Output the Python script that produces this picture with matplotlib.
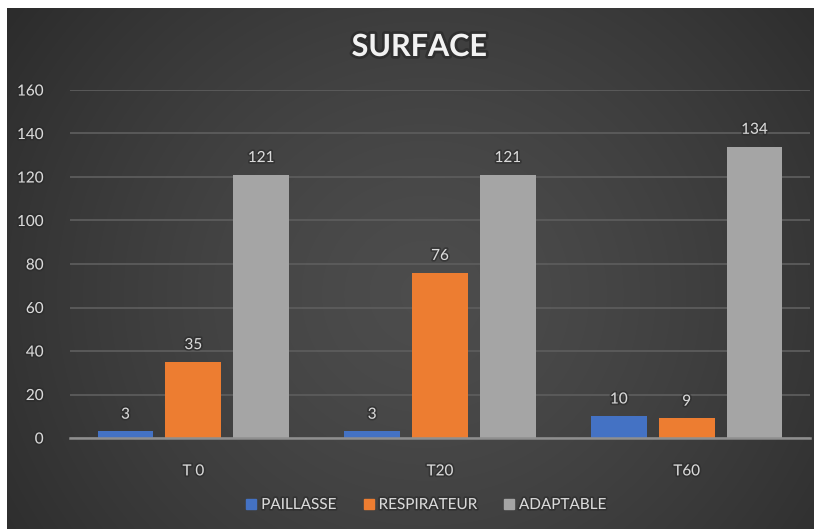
import matplotlib
matplotlib.use("Agg")
import matplotlib.pyplot as plt
import matplotlib.patheffects as pe
import numpy as np
from matplotlib.lines import Line2D

plt.rcParams["font.family"] = ["Lato", "DejaVu Sans"]

# --- data ---
categories = ["T 0", "T20", "T60"]
series_names = ["PAILLASSE", "RESPIRATEUR", "ADAPTABLE"]
paillasse = [3, 3, 10]
respirateur = [35, 76, 9]
adaptable = [121, 121, 134]
series_values = [paillasse, respirateur, adaptable]
colors = ["#4472C4", "#ED7D31", "#A5A5A5"]
y_ticks = [0, 20, 40, 60, 80, 100, 120, 140, 160]

W, H = 814, 531
fig = plt.figure(figsize=(W / 100, H / 100), dpi=100)
fig.patch.set_facecolor("white")

# dark background panel with soft radial gradient
bg = fig.add_axes([7 / W, 2 / H, 1 - 7 / W, 1 - 10 / H])
bg.set_axis_off()
yy, xx = np.mgrid[0:1:300j, 0:1:500j]
r = np.sqrt(((xx - 0.52) / 0.75) ** 2 + ((yy - 0.55) / 1.1) ** 2)
light, dark = 0.30, 0.14
shade = np.clip(light - (light - dark) * r ** 1.4, dark, light)
img = np.dstack([shade, shade, shade])
bg.imshow(img, aspect="auto", extent=[0, 1, 0, 1], interpolation="bilinear")
bg.set_xlim(0, 1)
bg.set_ylim(0, 1)

ax = fig.add_axes([70 / W, (H - 438) / H, 740 / W, (438 - 90) / H])
ax.patch.set_alpha(0)

x = np.arange(len(categories))
width = 0.227
offset = 0.275
text_col = "#d9d9d9"
glow = [pe.withStroke(linewidth=2.5, foreground="#2a2a2a", alpha=0.6)]
fs = 11

for i, (name, vals, c) in enumerate(zip(series_names, series_values, colors)):
    pos = x + (i - 1) * offset
    ax.bar(pos, vals, width=width, color=c, label=name, zorder=3)
    for p, v in zip(pos, vals):
        ax.text(p, v + 4.5, str(v), ha="center", va="bottom", fontsize=fs,
                color=text_col, path_effects=glow, zorder=4)

ax.set_xlim(-0.5, 2.5)
ax.set_ylim(0, 160)
ax.set_yticks(y_ticks)
ax.set_xticks(x)
ax.set_xticklabels(categories)
ax.yaxis.grid(True, color="#5c5c5c", linewidth=1.3, zorder=0)
ax.set_axisbelow(True)
for s in ["top", "right", "left"]:
    ax.spines[s].set_visible(False)
ax.spines["bottom"].set_color("#8f8f8f")
ax.spines["bottom"].set_linewidth(1.8)
ax.spines["bottom"].set_zorder(5)
ax.tick_params(axis="y", length=0, pad=19, labelsize=fs, labelcolor=text_col)
ax.tick_params(axis="x", length=0, pad=19, labelsize=fs, labelcolor=text_col)
for lbl in ax.get_yticklabels() + ax.get_xticklabels():
    lbl.set_path_effects(glow)

fig.text(0.515, (H - 47) / H, "SURFACE", ha="center", va="center",
         fontsize=22, fontweight="bold", color="#f2f2f2",
         path_effects=[pe.withStroke(linewidth=4, foreground="#222222", alpha=0.5)])

handles = [Line2D([0], [0], marker="s", linestyle="", markersize=7,
                  markerfacecolor=c, markeredgecolor=c) for c in colors]
leg = fig.legend(handles, series_names, loc="center", bbox_to_anchor=(0.522, (H - 505) / H),
                 ncol=3, frameon=False, fontsize=fs, handletextpad=0.15,
                 columnspacing=1.6, handlelength=1.0)
for t in leg.get_texts():
    t.set_color(text_col)
    t.set_path_effects(glow)

fig.savefig("out.png", dpi=100, facecolor=fig.get_facecolor())
